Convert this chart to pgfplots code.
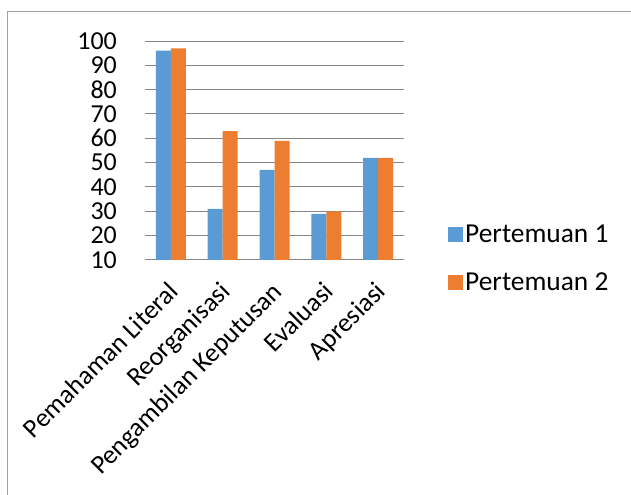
\documentclass[border=0pt]{standalone}
\usepackage{pgfplots}
\pgfplotsset{compat=1.18}
\usepackage{fontspec}
\setmainfont{Carlito}
\definecolor{blueA}{RGB}{91,155,213}
\definecolor{orangeA}{RGB}{237,125,49}
\definecolor{gridc}{RGB}{134,134,134}
\definecolor{framec}{RGB}{160,160,160}
\begin{document}
\begin{tikzpicture}[x=1bp,y=1bp]
\useasboundingbox (0,0) rectangle (631,495);
\draw[framec, line width=1bp] (7.5,0) -- (7.5,483.5) -- (631,483.5);
\begin{axis}[
  at={(145bp,235bp)}, anchor=south west,
  scale only axis, width=259bp, height=219bp,
  ybar, bar width=15bp,
  xmin=-0.5, xmax=4.5, ymin=10, ymax=100,
  ytick={10,20,...,100},
  xtick={0,1,2,3,4},
  xticklabels={Pemahaman Literal,Reorganisasi,Pengambilan Keputusan,Evaluasi,Apresiasi},
  axis x line*=bottom, axis y line*=left,
  x axis line style={draw=gridc, line width=1bp, -},
  y axis line style={draw=none},
  major tick length=0pt,
  ymajorgrids, grid style={gridc, line width=1bp},
  /pgf/number format/assume math mode=true,
  yticklabel style={font=\fontsize{26}{26}\selectfont, anchor=east, inner sep=0pt, xshift=-28bp},
  xticklabel style={font=\fontsize{26.5}{26.5}\selectfont, xshift=-4bp, yshift=-20bp, rotate=45, anchor=north east, inner sep=0pt},
  legend style={draw=none, fill=none, at={(1,0.007)}, anchor=west, xshift=41bp,
    font=\fontsize{27.5}{27.5}\selectfont, row sep=25bp,
    nodes={inner sep=2bp}},
  legend cell align=left,
  legend image code/.code={\fill[#1, draw=none] (0bp,-7.5bp) rectangle (15bp,7.5bp);},
]
\addplot[fill=blueA, draw=none, bar shift=-7.5bp] coordinates {(0,96) (1,31) (2,47) (3,29) (4,52)};
\addplot[fill=orangeA, draw=none, bar shift=7.5bp] coordinates {(0,97) (1,63) (2,59) (3,30) (4,52)};
\legend{Pertemuan 1, Pertemuan 2}
\end{axis}
\end{tikzpicture}
\end{document}
